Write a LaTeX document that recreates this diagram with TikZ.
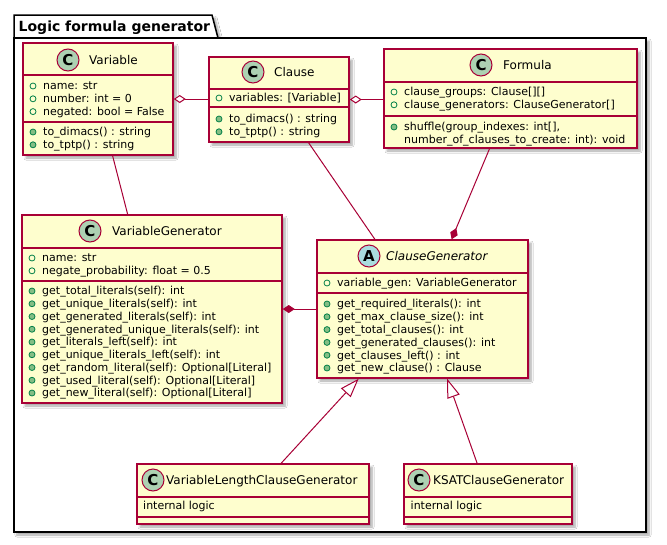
\documentclass[tikz,border=0pt]{standalone}
\usepackage{fontspec}
\setmainfont{DejaVu Sans}
\usetikzlibrary{arrows.meta,shadows.blur,calc}
\definecolor{umlred}{HTML}{A80036}
\definecolor{umlfill}{HTML}{FEFECE}
\definecolor{iconC}{HTML}{ADD1B2}
\definecolor{iconA}{HTML}{A9DCDF}
\definecolor{dotgreen}{HTML}{038048}
\definecolor{dotfill}{HTML}{84BE84}
\tikzset{
  umlshadow/.style={blur shadow={shadow xshift=3pt,shadow yshift=-3pt,shadow blur radius=2pt,shadow blur steps=6,shadow opacity=35}},
  classbox/.style={draw=umlred,fill=umlfill,line width=1.5pt,inner sep=0pt,umlshadow},
  divider/.style={draw=umlred,line width=1.5pt},
  membtxt/.style={anchor=base west,inner sep=0pt,font=\fontsize{11}{13}\selectfont},
  nametxt/.style={anchor=base west,inner sep=0pt,font=\fontsize{12}{14}\selectfont},
  attrdot/.style={draw=dotgreen,line width=0.8pt},
  methdot/.style={draw=dotgreen,fill=dotfill,line width=0.8pt},
  iconcircle/.style={circle,draw=umlred,line width=1pt,minimum size=22pt,inner sep=0pt,font=\fontsize{15}{15}\bfseries},
  conn/.style={draw=umlred,line width=1pt},
  pkgline/.style={draw=black,line width=1.5pt,fill=white},
}
\newcommand\memberlist[6]{%
  \foreach \txt [count=\k] in {#6} {
    \pgfmathsetmacro\cy{#3+(\k-1)*#4}
    \draw[#5] (#2+10,\cy) circle[radius=3pt];
    \node[membtxt] (#1\k) at (#2+20,\cy+3.8) {\txt};
  }%
}
\begin{document}
\begin{tikzpicture}[x=1pt,y=-1pt]
\useasboundingbox[fill=white] (0,0) rectangle (667,544);
% package
\path[pkgline,umlshadow] (14,38) -- (14,15) -- (212,15) -- (218,38) -- cycle;
\path[pkgline,umlshadow] (14,38) rectangle (646,532);
\node[anchor=base west,inner sep=0pt,font=\fontsize{14}{16}\bfseries] (pkgtitle) at (18.5,31) {Logic formula generator};

% class boxes
\node[classbox,minimum width=150pt,minimum height=112pt] (variable) at (98,99) {};
\node[classbox,minimum width=140pt,minimum height=85pt] (clause) at (279,99.5) {};
\node[classbox,minimum width=253pt,minimum height=99pt] (formula) at (510.5,98.5) {};
\node[classbox,minimum width=260pt,minimum height=188pt] (vargen) at (152,309) {};
\node[classbox,minimum width=211pt,minimum height=138pt] (clausegen) at (422.5,309) {};
\node[classbox,minimum width=232pt,minimum height=60pt] (vlcg) at (253,494) {};
\node[classbox,minimum width=168pt,minimum height=60pt] (ksat) at (488,494) {};

% dividers
\foreach \n/\ya/\yb in {variable/75/122,clause/89/107,formula/82/116,vargen/248/281,clausegen/273/293,vlcg/497/517,ksat/497/517}{
  \draw[divider] (\n.west |- 0,\ya) -- (\n.east |- 0,\ya);
  \draw[divider] (\n.west |- 0,\yb) -- (\n.east |- 0,\yb);
}

% headers
\node[iconcircle,fill=iconC] (variable-icon) at (68,60) {C};
\node[nametxt] (variable-name) at (89,64.4) {Variable};
\node[iconcircle,fill=iconC] (clause-icon) at (253,72) {C};
\node[nametxt] (clause-name) at (274,76.4) {Clause};
\node[iconcircle,fill=iconC] (formula-icon) at (481,65) {C};
\node[nametxt] (formula-name) at (503,69.4) {Formula};
\node[iconcircle,fill=iconC] (vargen-icon) at (90,231) {C};
\node[nametxt] (vargen-name) at (112,235.4) {VariableGenerator};
\node[iconcircle,fill=iconA] (clausegen-icon) at (369,256) {A};
\node[nametxt,font=\fontsize{12}{14}\itshape] (clausegen-name) at (386,260.4) {ClauseGenerator};
\node[iconcircle,fill=iconC] (vlcg-icon) at (153,480) {C};
\node[nametxt] (vlcg-name) at (166,484.4) {VariableLengthClauseGenerator};
\node[iconcircle,fill=iconC] (ksat-icon) at (419,480) {C};
\node[nametxt] (ksat-name) at (433,484.4) {KSATClauseGenerator};

% members
\memberlist{variable-a}{23}{86}{12.8}{attrdot}{{name: str},{number: int = 0},{negated: bool = False}}
\memberlist{variable-m}{23}{132}{12.8}{methdot}{{to\_dimacs() : string},{to\_tptp() : string}}
\memberlist{clause-a}{209}{98}{12.8}{attrdot}{{variables: [Variable]}}
\memberlist{clause-m}{209}{119}{12.8}{methdot}{{to\_dimacs() : string},{to\_tptp() : string}}
\memberlist{formula-a}{384}{92}{12.8}{attrdot}{{clause\_groups: Clause[][]},{clause\_generators: ClauseGenerator[]}}
\memberlist{formula-m}{384}{127}{12.8}{methdot}{{shuffle(group\_indexes: int[],}}
\node[membtxt] (formula-m2) at (404,143.3) {number\_of\_clauses\_to\_create: int): void};
\memberlist{vargen-a}{22}{258}{12.8}{attrdot}{{name: str},{negate\_probability: float = 0.5}}
\memberlist{vargen-m}{22}{291}{12.75}{methdot}{{get\_total\_literals(self): int},{get\_unique\_literals(self): int},{get\_generated\_literals(self): int},{get\_generated\_unique\_literals(self): int},{get\_literals\_left(self): int},{get\_unique\_literals\_left(self): int},{get\_random\_literal(self): Optional[Literal]},{get\_used\_literal(self): Optional[Literal]},{get\_new\_literal(self): Optional[Literal]}}
\memberlist{clausegen-a}{317}{283}{12.8}{attrdot}{{variable\_gen: VariableGenerator}}
\memberlist{clausegen-m}{317}{304}{12.8}{methdot}{{get\_required\_literals(): int},{get\_max\_clause\_size(): int},{get\_total\_clauses(): int},{get\_generated\_clauses(): int},{get\_clauses\_left() : int},{get\_new\_clause() : Clause}}
\node[membtxt] (vlcg-body) at (143,509.8) {internal logic};
\node[membtxt] (ksat-body) at (410.5,509.8) {internal logic};

% connectors
\draw[conn,{Diamond[length=12pt,width=8pt,fill=white]}-] (variable.east) -- (variable.east -| clause.west);
\draw[conn,{Diamond[length=12pt,width=8pt,fill=white]}-] (clause.east) -- (clause.east -| formula.west);
\draw[conn] (variable) -- (vargen);
\draw[conn] (clause) -- (clausegen);
\draw[conn,-{Diamond[length=12pt,width=8pt,fill=umlred]}] (formula) -- (clausegen);
\draw[conn,{Diamond[length=12pt,width=8pt,fill=umlred]}-] (vargen.east) -- (vargen.east -| clausegen.west);
\draw[conn,-{Triangle[length=19pt,width=13pt,fill=white]}] (vlcg) -- (clausegen);
\draw[conn,-{Triangle[length=19pt,width=13pt,fill=white]}] (ksat) -- (clausegen);
\end{tikzpicture}
\end{document}
